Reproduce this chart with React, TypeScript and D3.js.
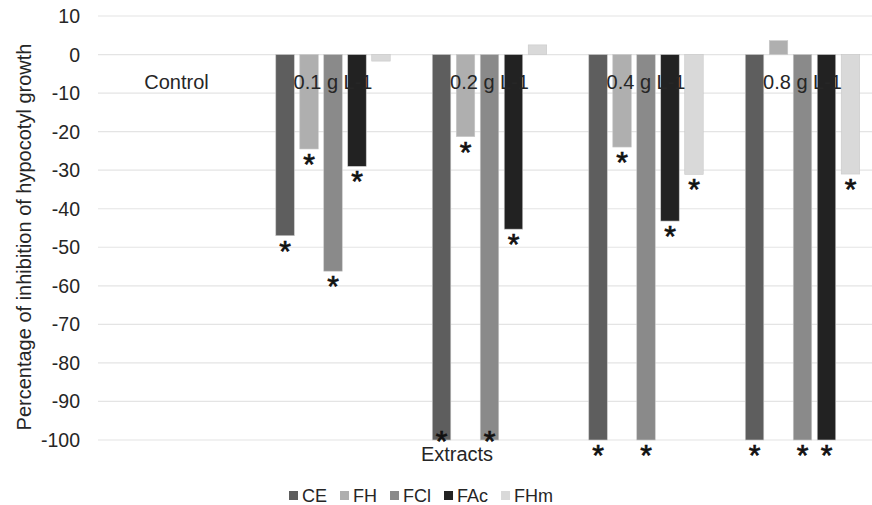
import React, { useEffect, useRef } from "react";
import * as d3 from "d3";

// Concentration groups along the x axis
const categories = ["Control", "0.1 g L-1", "0.2 g L-1", "0.4 g L-1", "0.8 g L-1"];

// Extract series (percentage of inhibition of hypocotyl growth)
const seriesNames = ["CE", "FH", "FCl", "FAc", "FHm"];
const CE = [0, -47, -100, -100, -100];
const FH = [0, -24.5, -21.3, -24, 3.6];
const FCl = [0, -56.2, -100, -100, -100];
const FAc = [0, -29, -45.3, -43.2, -100];
const FHm = [0, -1.7, 2.5, -31.1, -31];

// Significance markers (asterisk) per series and group
const sigCE = [false, true, true, true, true];
const sigFH = [false, true, true, true, false];
const sigFCl = [false, true, true, true, true];
const sigFAc = [false, true, true, true, true];
const sigFHm = [false, false, false, true, true];

const yTicks = [10, 0, -10, -20, -30, -40, -50, -60, -70, -80, -90, -100];

const seriesColors = ["#5e5e5e", "#afafaf", "#8a8a8a", "#222222", "#d9d9d9"];

const W = 872;
const H = 505;
const FONT = "'Liberation Sans', Arial, sans-serif";
const TEXT = "#262626";

export default function App() {
  const ref = useRef<SVGSVGElement | null>(null);

  useEffect(() => {
    const svg = d3.select(ref.current);
    svg.selectAll("*").remove();

    const values = [CE, FH, FCl, FAc, FHm];
    const sigs = [sigCE, sigFH, sigFCl, sigFAc, sigFHm];

    const y = d3.scaleLinear().domain([-100, 10]).range([440, 16]);
    const x0 = d3.scaleBand<string>().domain(categories).range([98.25, 880.75]).padding(0);
    const x1 = d3
      .scaleBand<string>()
      .domain(seriesNames)
      .range([0, x0.bandwidth()])
      .paddingInner(0.229)
      .paddingOuter(0.877);

    // Gridlines
    svg
      .append("g")
      .selectAll("line")
      .data(yTicks)
      .join("line")
      .attr("x1", 98)
      .attr("x2", W)
      .attr("y1", (d) => y(d))
      .attr("y2", (d) => y(d))
      .attr("stroke", "#e4e4e4")
      .attr("stroke-width", 1.2);

    // Y tick labels
    svg
      .append("g")
      .selectAll("text")
      .data(yTicks)
      .join("text")
      .attr("x", 80)
      .attr("y", (d) => y(d) + 7)
      .attr("text-anchor", "end")
      .attr("font-family", FONT)
      .attr("font-size", 19.5)
      .attr("fill", TEXT)
      .text((d) => String(d));

    // Y axis title
    svg
      .append("text")
      .attr("transform", `translate(31,${237}) rotate(-90)`)
      .attr("text-anchor", "middle")
      .attr("font-family", FONT)
      .attr("font-size", 20)
      .attr("fill", TEXT)
      .text("Percentage of inhibition of hypocotyl growth");

    // Bars
    const groups = svg
      .append("g")
      .selectAll("g")
      .data(categories)
      .join("g")
      .attr("transform", (c) => `translate(${x0(c)},0)`);

    const rows = (ci: number) =>
      seriesNames.map((s, si) => ({ s, si, v: values[si][ci], sig: sigs[si][ci], ci }));

    groups
      .selectAll("rect")
      .data((_, ci) => rows(ci).filter((r) => r.v !== 0))
      .join("rect")
      .attr("x", (d) => x1(d.s)!)
      .attr("width", x1.bandwidth())
      .attr("y", (d) => Math.min(y(d.v), y(0)))
      .attr("height", (d) => Math.abs(y(d.v) - y(0)))
      .attr("fill", (d) => seriesColors[d.si])
      .attr("stroke", "#c8c8c8")
      .attr("stroke-width", 0.6);

    // Category labels, drawn over the bars
    svg
      .append("g")
      .selectAll("text")
      .data(categories)
      .join("text")
      .attr("x", (c) => x0(c)! + x0.bandwidth() / 2)
      .attr("y", 89)
      .attr("text-anchor", "middle")
      .attr("font-family", FONT)
      .attr("font-size", 20)
      .attr("fill", TEXT)
      .text((c) => c);

    // Significance asterisks: below the bar end, or tucked inside full-length bars at 0.2 g L-1
    const starSize = 30;
    groups
      .selectAll("text.star")
      .data((_, ci) => rows(ci).filter((r) => r.sig))
      .join("text")
      .attr("class", "star")
      .attr("x", (d) => x1(d.s)! + x1.bandwidth() / 2)
      .attr("y", (d) => {
        const inside = d.ci === 2 && d.v <= -100;
        const center = y(d.v) + (inside ? -5 : 9);
        return center + starSize * 0.53;
      })
      .attr("text-anchor", "middle")
      .attr("font-family", FONT)
      .attr("font-size", starSize)
      .attr("fill", "#111")
      .attr("stroke", "#111")
      .attr("stroke-width", 0.7)
      .text("*");

    // X axis title
    svg
      .append("text")
      .attr("x", 457)
      .attr("y", 461)
      .attr("text-anchor", "middle")
      .attr("font-family", FONT)
      .attr("font-size", 20)
      .attr("fill", TEXT)
      .text("Extracts");

    // Legend
    const legend = svg.append("g");
    let lx = 289;
    seriesNames.forEach((s, i) => {
      legend
        .append("rect")
        .attr("x", lx)
        .attr("y", 491)
        .attr("width", 9)
        .attr("height", 9)
        .attr("fill", seriesColors[i]);
      const t = legend
        .append("text")
        .attr("x", lx + 13)
        .attr("y", 502)
        .attr("font-family", FONT)
        .attr("font-size", 18)
        .attr("fill", TEXT)
        .text(s);
      const w = (t.node() as SVGTextElement).getComputedTextLength();
      lx = lx + 13 + w + 13;
    });
  }, []);

  return (
    <svg
      ref={ref}
      width={W}
      height={H}
      style={{ position: "absolute", left: 0, top: 0, background: "#fff" }}
    />
  );
}
